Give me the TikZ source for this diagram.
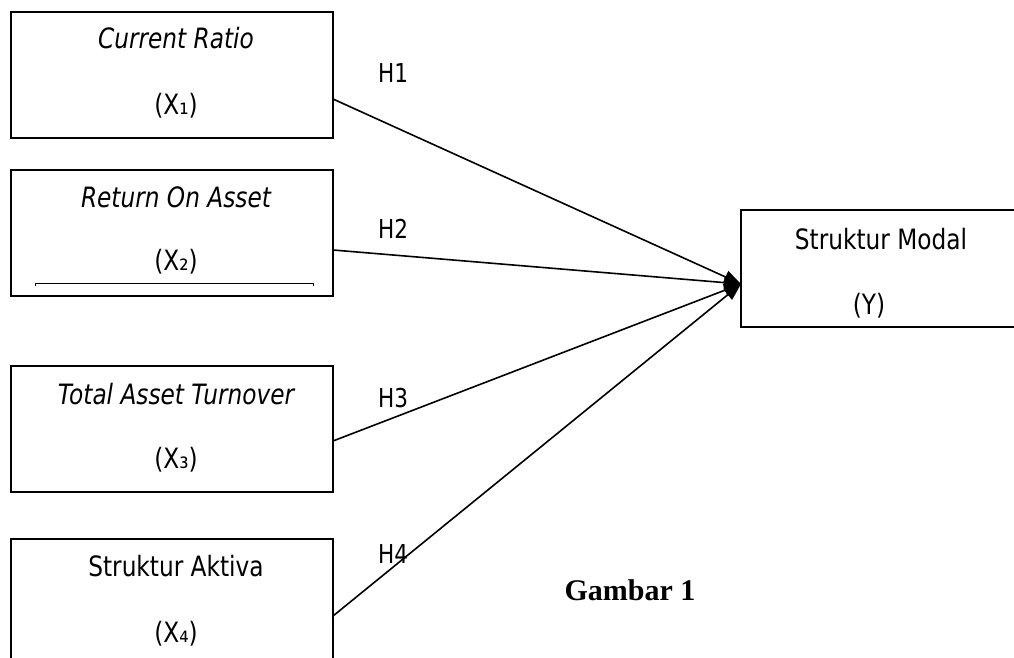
\documentclass[tikz,border=0pt]{standalone}
\usepackage{fontspec}
\setmainfont{DejaVu Sans}[FakeStretch=0.83]
\newfontfamily\capfont{Liberation Serif}
\usetikzlibrary{arrows.meta}
\begin{document}
\begin{tikzpicture}[x=1pt,y=-1pt,
  box/.style={draw, line width=1.6pt, inner sep=0pt, minimum width=322pt, minimum height=126pt},
  lbl/.style={inner sep=0pt, anchor=base, font=\fontsize{28}{30}\selectfont},
  hlab/.style={inner sep=0pt, anchor=base, font=\fontsize{26}{28}\selectfont},
  link/.style={line width=1.6pt, -{Triangle[length=17pt,width=13pt]}}]
\useasboundingbox (0,0) rectangle (1014,658);
% boxes
\node[box] (b1) at (172,75) {};
\node[box] (b2) at (172,233) {};
\node[box] (b3) at (172,429) {};
\node[box] (b4) at (172,602) {};
\node[box, minimum width=280pt, minimum height=117pt] (by) at (881,268.5) {};
\draw[line width=1pt] (35,286) -- (35,283) -- (313,283) -- (313,286);
% texts
\node[lbl] (t1) at (176,49) {\itshape Current Ratio};
\node[lbl] (s1) at (176,115) {(X₁)};
\node[lbl] (t2) at (176,207) {\itshape Return On Asset};
\node[lbl] (s2) at (176,270) {(X₂)};
\node[lbl] (t3) at (176,404) {\itshape Total Asset Turnover};
\node[lbl] (s3) at (176,468) {(X₃)};
\node[lbl] (t4) at (176,576) {Struktur Aktiva};
\node[lbl] (s4) at (176,642) {(X₄)};
\node[lbl] (ty) at (881,249) {Struktur Modal};
\node[lbl] (sy) at (869,314) {(Y)};
% connectors
\coordinate (p1) at (333,99);
\coordinate (p2) at (333,250);
\coordinate (p3) at (333,441);
\coordinate (p4) at (333,616);
\coordinate (tip) at (741,284);
\draw[link] (p1) -- (tip);
\draw[link] (p2) -- (tip);
\draw[link] (p3) -- (tip);
\draw[link] (p4) -- (tip);
\node[hlab] (h1) at (393,83) {H1};
\node[hlab] (h2) at (393,238) {H2};
\node[hlab] (h3) at (393,407) {H3};
\node[hlab] (h4) at (393,563) {H4};
\node[inner sep=0pt, anchor=base, font=\capfont\bfseries\fontsize{30}{32}\selectfont] (cap) at (630,600) {Gambar 1};
\end{tikzpicture}
\end{document}
